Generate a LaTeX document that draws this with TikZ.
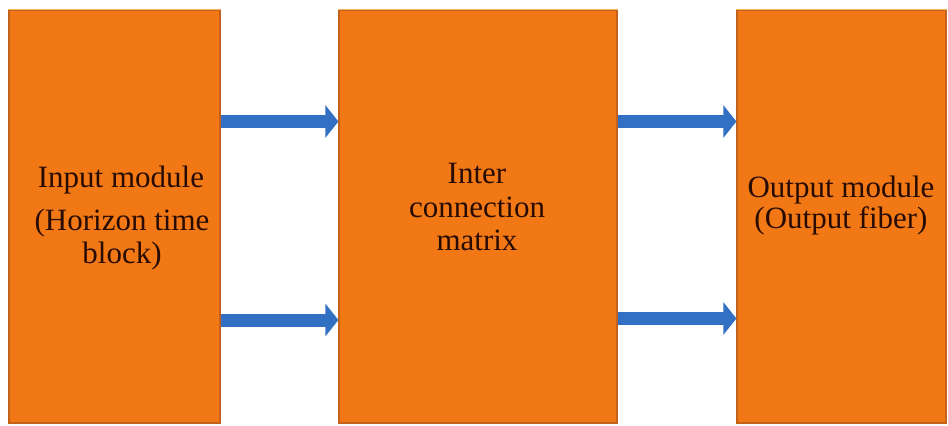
\documentclass[tikz,border=0pt]{standalone}
\usepackage{fontspec}
\setmainfont{Liberation Serif}
\usetikzlibrary{arrows.meta}
\definecolor{boxfill}{RGB}{241,120,20}
\definecolor{boxedge}{RGB}{196,98,28}
\definecolor{arrowblue}{RGB}{50,112,196}
\definecolor{txt}{RGB}{40,12,4}
\tikzset{
  blockbox/.style={rectangle, fill=boxfill, draw=boxedge, line width=1.2bp, inner sep=0pt},
  lbl/.style={anchor=base, inner sep=0pt, text=txt, font=\fontsize{31bp}{33bp}\selectfont},
  arr/.style={draw=arrowblue, line width=13bp, -{Triangle[length=13bp,width=32bp]}}
}
\begin{document}
\begin{tikzpicture}[x=1bp,y=-1bp]
\useasboundingbox (0,0) rectangle (948,425);
\node[blockbox, minimum width=211bp, minimum height=413bp] (inbox) at (114.5,216.5) {};
\node[blockbox, minimum width=278bp, minimum height=413bp] (midbox) at (478,216.5) {};
\node[blockbox, minimum width=209bp, minimum height=413bp] (outbox) at (841.5,216.5) {};
% highlight on top edges
\draw[draw={rgb,255:red,250;green,180;blue,90}, line width=1.5bp] (inbox.north west) -- (inbox.north east);
\draw[draw={rgb,255:red,250;green,180;blue,90}, line width=1.5bp] (midbox.north west) -- (midbox.north east);
\draw[draw={rgb,255:red,250;green,180;blue,90}, line width=1.5bp] (outbox.north west) -- (outbox.north east);
% texts
\node[lbl] (t1) at (121,187) {Input module};
\node[lbl] (t2) at (122,230) {(Horizon time};
\node[lbl] (t3) at (122,263) {block)};
\node[lbl] (t4) at (477,183) {Inter};
\node[lbl] (t5) at (477,217) {connection};
\node[lbl] (t6) at (477,250) {matrix};
\node[lbl] (t7) at (841,197) {Output module};
\node[lbl] (t8) at (841,228) {(Output fiber)};
% arrows
\draw[arr] (inbox.east |- 0,121.5) -- (midbox.west |- 0,121.5);
\draw[arr] (inbox.east |- 0,320) -- (midbox.west |- 0,320);
\draw[arr] (midbox.east |- 0,121.5) -- (outbox.west |- 0,121.5);
\draw[arr] (midbox.east |- 0,318.5) -- (outbox.west |- 0,318.5);
\end{tikzpicture}
\end{document}
